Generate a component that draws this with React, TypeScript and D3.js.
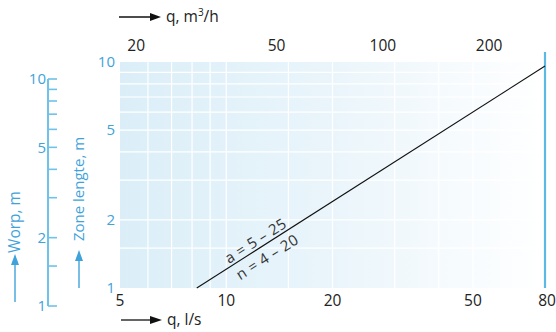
import React from "react";
import * as d3 from "d3";

// ---- data ----
const bottomTicks = [5, 10, 20, 50, 80]; // q, l/s
const topTicks = [20, 50, 100, 200]; // q, m3/h
const yTicks = [1, 2, 5, 10]; // Zone lengte, m
const worpMajor = [1, 2, 5, 10]; // Worp, m
const worpMinor = [1.5, 3, 4, 6, 7, 8, 9];
const gridX = [6, 7, 8, 9, 10, 15, 20, 30, 40, 50];
const gridY = [1.5, 2, 3, 4, 5, 6, 7, 8, 9];
const lineQ = [8.25, 80]; // l/s
const lineL = [1, 9.6]; // m
const labelQ = 12.6;
const labelA = "a = 5 – 25";
const labelN = "n = 4 – 20";

const W = 556;
const H = 332;
const FONT = "'Open Sans', 'DejaVu Sans', sans-serif";
const BLUE = "#3fa3da";
const AXBLUE = "#6fc2e8";
const DARK = "#222";

export default function App() {
  const x = d3.scaleLog().domain([5, 80]).range([120, 545]);
  const y = d3.scaleLog().domain([1, 10]).range([288, 62]);
  const yw = d3.scaleLog().domain([1, 10]).range([306, 79]);
  const toLs = (m3h: number) => m3h / 3.6;

  const pts: [number, number][] = lineQ.map((q, i) => [x(q), y(lineL[i])]);
  const lineGen = d3.line();
  const ang = (Math.atan2(pts[1][1] - pts[0][1], pts[1][0] - pts[0][0]) * 180) / Math.PI;
  const lx = x(labelQ);
  const t = (lx - pts[0][0]) / (pts[1][0] - pts[0][0]);
  const ly = pts[0][1] + t * (pts[1][1] - pts[0][1]);

  const [x0, x1] = x.range();
  const [yb, yt] = y.range();

  return (
    <svg
      width={W}
      height={H}
      style={{ position: "fixed", left: 0, top: 0, background: "#fff" }}
      fontFamily={FONT}
    >
      <defs>
        <linearGradient id="bg" x1="0" x2="1" y1="0" y2="0">
          <stop offset="0" stopColor="#dbeef8" />
          <stop offset="0.5" stopColor="#eaf5fb" />
          <stop offset="1" stopColor="#ffffff" />
        </linearGradient>
      </defs>

      {/* plot background */}
      <rect x={x0} y={yt} width={x1 - x0} height={yb - yt} fill="url(#bg)" />
      {gridX.map((v) => (
        <line key={"gx" + v} x1={x(v)} x2={x(v)} y1={yt} y2={yb} stroke="#fff" strokeWidth={1.2} />
      ))}
      {gridY.map((v) => (
        <line key={"gy" + v} x1={x0} x2={x1} y1={y(v)} y2={y(v)} stroke="#fff" strokeWidth={1.2} />
      ))}

      {/* right blue line */}
      <line x1={x1} x2={x1} y1={52} y2={yb} stroke="#5bb9e3" strokeWidth={2.2} />

      {/* data line */}
      <path d={lineGen(pts) || ""} stroke="#111" strokeWidth={1.1} fill="none" />
      <g transform={`translate(${lx},${ly}) rotate(${ang})`} fontSize={15} fill="#333" letterSpacing={0.4}>
        <text x={-2} y={-3} textAnchor="middle">{labelA}</text>
        <text x={-1} y={17} textAnchor="middle">{labelN}</text>
      </g>

      {/* plot y labels */}
      {yTicks.map((v) => (
        <text key={"yl" + v} x={115} y={y(v)} dy="0.36em" textAnchor="end" fontSize={15} fill={BLUE}>
          {v}
        </text>
      ))}

      {/* bottom labels */}
      {bottomTicks.map((v) => (
        <text key={"bl" + v} x={x(v) + (v === 80 ? 2 : 0)} y={306} textAnchor="middle" fontSize={15.5} fill={DARK}>
          {v}
        </text>
      ))}
      {/* top labels */}
      {topTicks.map((v) => (
        <text key={"tl" + v} x={x(toLs(v))} y={51} textAnchor="middle" fontSize={15.5} fill={DARK}>
          {v}
        </text>
      ))}

      {/* top axis title */}
      <line x1={119} x2={152} y1={17} y2={17} stroke="#111" strokeWidth={1.3} />
      <path d="M150,13 L161,17 L150,21 Z" fill="#111" />
      <text x={166} y={22} fontSize={15.5} fill={DARK}>
        q, m<tspan dy={-6} fontSize={10}>3</tspan><tspan dy={6}>/h</tspan>
      </text>

      {/* bottom axis title */}
      <line x1={121} x2={152} y1={320} y2={320} stroke="#111" strokeWidth={1.3} />
      <path d="M150,316 L162,320 L150,324 Z" fill="#111" />
      <text x={167} y={325} fontSize={15.5} fill={DARK}>
        q, l/s
      </text>

      {/* Worp axis */}
      <line x1={48} x2={48} y1={yw(10)} y2={yw(1)} stroke={AXBLUE} strokeWidth={2} />
      {[...worpMajor, ...worpMinor].map((v) => (
        <line key={"wt" + v} x1={48} x2={57} y1={yw(v)} y2={yw(v)} stroke={AXBLUE} strokeWidth={1.6} />
      ))}
      {worpMajor.map((v) => (
        <text key={"wl" + v} x={46} y={yw(v)} dy="0.36em" textAnchor="end" fontSize={15} fill={BLUE}>
          {v}
        </text>
      ))}

      {/* Worp title */}
      <text transform="translate(20,222) rotate(-90)" textAnchor="middle" fontSize={15.5} fill={BLUE}>
        Worp, m
      </text>
      <line x1={15} x2={15} y1={302} y2={262} stroke={BLUE} strokeWidth={1.4} />
      <path d="M11,265 L15,254 L19,265 Z" fill={BLUE} />

      {/* Zone lengte title */}
      <text transform="translate(84,189) rotate(-90)" textAnchor="middle" fontSize={15} fill={BLUE}>
        Zone lengte, m
      </text>
      <line x1={79} x2={79} y1={288} y2={258} stroke={BLUE} strokeWidth={1.4} />
      <path d="M75,261 L79,250 L83,261 Z" fill={BLUE} />
    </svg>
  );
}
